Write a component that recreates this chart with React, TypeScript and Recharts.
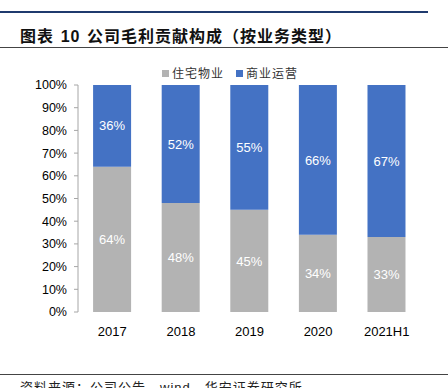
import { BarChart, Bar, XAxis, YAxis, LabelList } from "recharts";

const CATEGORIES = ["2017", "2018", "2019", "2020", "2021H1"];
const RESIDENTIAL = [0.64, 0.48, 0.45, 0.34, 0.33];
const COMMERCIAL = [0.36, 0.52, 0.55, 0.66, 0.67];
const Y_TICKS = [0, 0.1, 0.2, 0.3, 0.4, 0.5, 0.6, 0.7, 0.8, 0.9, 1];
const EDGE_TICKS = [0, 1, 2, 3, 4, 5];

const GRAY = "#B3B3B3";
const BLUE = "#4472C4";
const AXIS = "#A6A6A6";
const LATIN = "'Liberation Sans', Arial, sans-serif";
const CJK = "'Noto Sans CJK SC', sans-serif";

const data = CATEGORIES.map((c, i) => ({
  name: c,
  idx: i + 0.5,
  res: RESIDENTIAL[i],
  com: COMMERCIAL[i],
}));

const pct = (v: number) => `${Math.round(v * 100)}%`;

export default function App() {
  return (
    <div
      style={{
        position: "absolute",
        left: 0,
        top: 0,
        width: 448,
        height: 388,
        overflow: "hidden",
        background: "#fff",
      }}
    >
      <div style={{ position: "absolute", left: 0, top: 11, width: 428, height: 1.5, background: "#1F3A6E" }} />
      <div
        style={{
          position: "absolute",
          left: 20,
          top: 23,
          fontFamily: CJK,
          fontWeight: 700,
          fontSize: 16,
          letterSpacing: 1,
          lineHeight: "24px",
          color: "#111",
          whiteSpace: "nowrap",
        }}
      >
        图表 <span style={{ fontFamily: LATIN, margin: "0 2px" }}>10</span> 公司毛利贡献构成（按业务类型）
      </div>
      <div style={{ position: "absolute", left: 0, top: 47, width: 448, height: 1, background: "#444" }} />

      <div
        style={{
          position: "absolute",
          left: 162,
          top: 64,
          display: "flex",
          alignItems: "center",
          fontFamily: CJK,
          fontSize: 12,
          color: "#333",
          lineHeight: "18px",
          whiteSpace: "nowrap",
        }}
      >
        <span style={{ width: 7, height: 7, background: GRAY, marginRight: 3 }} />
        <span style={{ letterSpacing: 1 }}>住宅物业</span>
        <span style={{ width: 7, height: 7, background: BLUE, marginLeft: 12, marginRight: 3 }} />
        <span style={{ letterSpacing: 1 }}>商业运营</span>
      </div>

      <div style={{ position: "absolute", left: 0, top: 0 }}>
        <BarChart
          width={448}
          height={388}
          data={data}
          barCategoryGap="22%"
          margin={{ top: 85, right: 27, bottom: 46, left: 0 }}
        >
          <XAxis
            dataKey="name"
            xAxisId="cat"
            height={30}
            tickLine={false}
            axisLine={false}
            tickMargin={9}
            tick={{ fill: "#000", fontSize: 13, fontFamily: LATIN }}
          />
          <XAxis
            dataKey="idx"
            xAxisId="edge"
            type="number"
            domain={[0, 5]}
            ticks={EDGE_TICKS}
            height={0}
            tick={false}
            tickSize={4}
            axisLine={{ stroke: AXIS }}
            tickLine={{ stroke: AXIS }}
          />
          <YAxis
            width={78}
            domain={[0, 1]}
            ticks={Y_TICKS}
            interval={0}
            tickFormatter={pct}
            tickSize={4}
            tickMargin={7}
            axisLine={{ stroke: AXIS }}
            tickLine={{ stroke: AXIS }}
            tick={{ fill: "#000", fontSize: 12.5, fontFamily: LATIN }}
          />
          <Bar dataKey="res" xAxisId="cat" stackId="a" fill={GRAY} isAnimationActive={false}>
            <LabelList dataKey="res" position="center" formatter={pct} fill="#fff" fontSize={13} fontFamily={LATIN} />
          </Bar>
          <Bar dataKey="com" xAxisId="cat" stackId="a" fill={BLUE} isAnimationActive={false}>
            <LabelList dataKey="com" position="center" formatter={pct} fill="#fff" fontSize={13} fontFamily={LATIN} />
          </Bar>
        </BarChart>
      </div>

      <div style={{ position: "absolute", left: 0, top: 374, width: 448, height: 1, background: "#444" }} />
      <div
        style={{
          position: "absolute",
          left: 20,
          top: 378,
          fontFamily: CJK,
          fontSize: 13,
          color: "#222",
          whiteSpace: "nowrap",
          lineHeight: "18px",
          letterSpacing: 1,
        }}
      >
        资料来源：公司公告，<span style={{ fontFamily: LATIN }}>wind</span>，华安证券研究所
      </div>
    </div>
  );
}
